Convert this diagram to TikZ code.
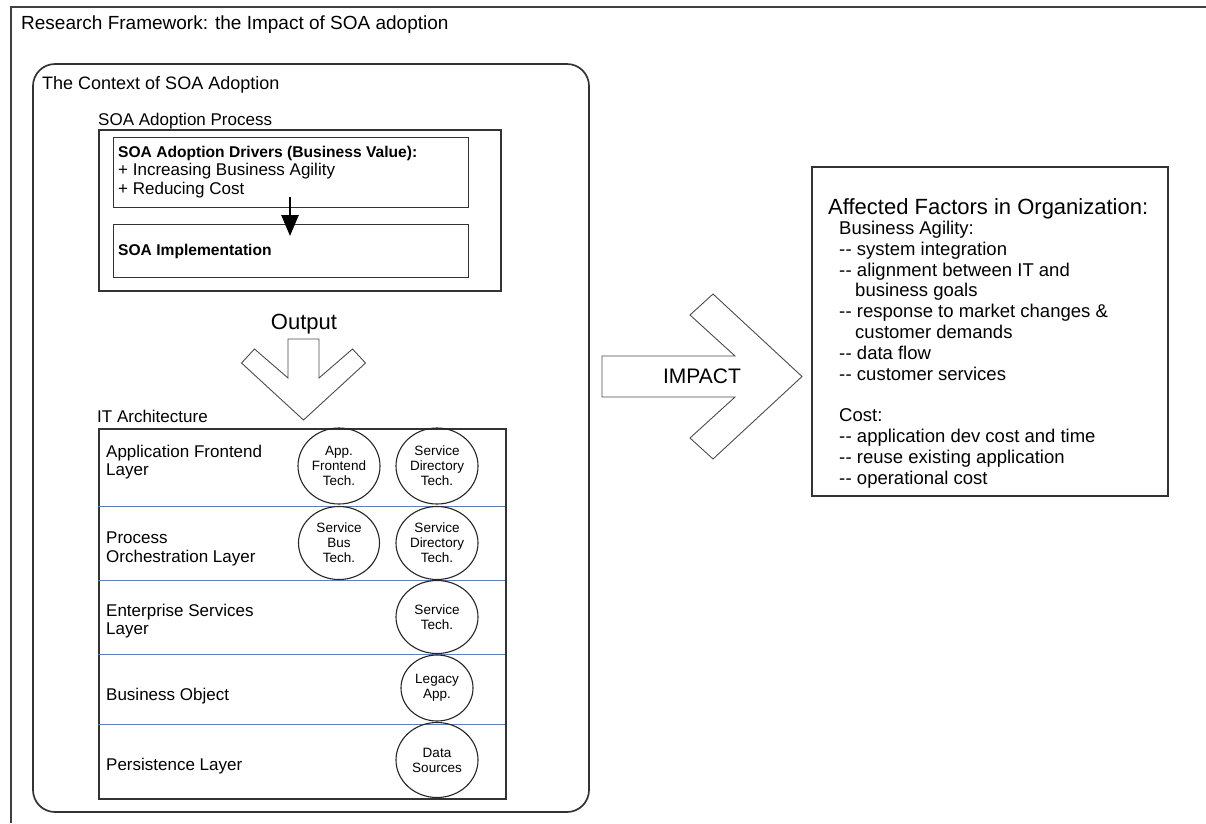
\documentclass[tikz,border=0pt]{standalone}
\usepackage{fontspec}
\setmainfont{Liberation Sans}
\usetikzlibrary{shapes.geometric,arrows.meta}
\newcommand\dbldash{-\kern0.3pt-}
\definecolor{layerline}{RGB}{95,125,185}
\begin{document}
\begin{tikzpicture}[x=1pt,y=-1pt,
  inbox/.style={draw=black!80, line width=1.3pt, anchor=north west, inner sep=0pt},
  txt/.style={anchor=base west, inner sep=0pt, font=\fontsize{17}{19}\selectfont},
  boldtxt/.style={anchor=base west, inner sep=0pt, font=\bfseries\fontsize{15.6}{18}\selectfont},
  factor/.style={anchor=base west, inner sep=0pt, font=\fontsize{18.5}{20.8}\selectfont},
  tech/.style={draw=black!85, line width=1.1pt, ellipse, inner sep=0pt, align=center,
    font=\fontsize{13.5}{15}\selectfont},
  divider/.style={draw=layerline, line width=1pt},
  bigarrow/.style={draw=black!70, line width=0.9pt, fill=white, line join=miter}
]
\useasboundingbox (0,0) rectangle (1206,823);
\fill[white] (0,0) rectangle (1206,823);

% page frame
\draw[black!75, line width=1.2pt] (11,823) -- (11,7) -- (1206,7);
\node[anchor=base west, inner sep=0pt, font=\fontsize{19}{21}\selectfont] (title) at (21,29)
  {Research Framework: the Impact of SOA adoption};

% context of adoption
\draw[black!80, line width=1.7pt, rounded corners=22pt] (33,64) rectangle (589,812);
\node[anchor=base west, inner sep=0pt, font=\fontsize{18}{20}\selectfont] (ctx) at (42,89)
  {The Context of SOA Adoption};

% adoption process
\node[txt] (proclbl) at (98,125) {SOA Adoption Process};
\node[inbox, line width=1.7pt, minimum width=402pt, minimum height=161pt] (process) at (98,129) {};
\node[inbox, minimum width=355pt, minimum height=70pt] (drivers) at (113,137) {};
\node[inbox, minimum width=355pt, minimum height=53pt] (impl) at (113,224) {};
\node[boldtxt] (drvhead) at (118,157) {SOA Adoption Drivers (Business Value):};
\node[txt] (drv1) at (118,175) {+ Increasing Business Agility};
\node[txt] (drv2) at (118,194) {+ Reducing Cost};
\node[boldtxt] (impltxt) at (118,255) {SOA Implementation};
\coordinate (drvstart) at (290,197);
\coordinate (drvend) at (290,236);
\draw[line width=2.6pt, -{Triangle[length=21pt,width=17pt]}] (drvstart) -- (drvend);

% output arrow
\draw[bigarrow] (288,339) -- (319,339) -- (319,378) -- (352.5,349) -- (365.5,363)
  -- (303.5,420) -- (241.5,363) -- (254.5,349) -- (288,378) -- cycle;
\node[anchor=base, inner sep=0pt, font=\fontsize{22}{24}\selectfont] (output) at (304,329) {Output};

% IT architecture
\node[txt] (itlbl) at (97,422) {IT Architecture};
\node[inbox, line width=1.6pt, minimum width=407pt, minimum height=370pt] (itarch) at (98,428) {};
\draw[divider] (98,506) -- (505,506);
\draw[divider] (98,580) -- (505,580);
\draw[divider] (98,654) -- (505,654);
\draw[divider] (98,724) -- (505,724);

\node[txt] (l1a) at (106,457) {Application Frontend};
\node[txt] (l1b) at (106,475) {Layer};
\node[txt] (l2a) at (106,543) {Process};
\node[txt] (l2b) at (106,562) {Orchestration Layer};
\node[txt] (l3a) at (106,616) {Enterprise Services};
\node[txt] (l3b) at (106,634) {Layer};
\node[txt] (l4) at (106,700) {Business Object};
\node[txt] (l5) at (106,770) {Persistence Layer};

\node[tech, minimum width=82pt, minimum height=76pt] (afe) at (339,466) {App.\\Frontend\\Tech.};
\node[tech, minimum width=82pt, minimum height=76pt] (sd1) at (437,466) {Service\\Directory\\Tech.};
\node[tech, minimum width=81pt, minimum height=73pt] (sbus) at (339,543) {Service\\Bus\\Tech.};
\node[tech, minimum width=82pt, minimum height=73pt] (sd2) at (437,543) {Service\\Directory\\Tech.};
\node[tech, minimum width=82pt, minimum height=73pt] (stech) at (437,617) {Service\\Tech.};
\node[tech, minimum width=72pt, minimum height=66pt] (legacy) at (437,688) {Legacy\\App.};
\node[tech, minimum width=82pt, minimum height=75pt] (data) at (437,760) {Data\\Sources};

% impact arrow
\draw[bigarrow] (602,356) -- (735,356) -- (690,315) -- (713,294) -- (802,376.5)
  -- (713,459) -- (690,438) -- (735,397) -- (602,397) -- cycle;
\node[anchor=base, inner sep=0pt, font=\fontsize{21}{23}\selectfont] (impact) at (702,383) {IMPACT};

% affected factors
\node[inbox, line width=1.6pt, minimum width=356pt, minimum height=329pt] (factors) at (811,166) {};
\node[anchor=base west, inner sep=0pt, font=\fontsize{22}{24}\selectfont] (facthead) at (828,214)
  {Affected Factors in Organization:};
\node[factor] (f1) at (839,234) {Business Agility:};
\node[factor] (f2) at (839,255) {\dbldash{} system integration};
\node[factor] (f3) at (839,276) {\dbldash{} alignment between IT and};
\node[factor] (f4) at (855,296) {business goals};
\node[factor] (f5) at (839,317) {\dbldash{} response to market changes \&};
\node[factor] (f6) at (855,338) {customer demands};
\node[factor] (f7) at (839,359) {\dbldash{} data flow};
\node[factor] (f8) at (839,380) {\dbldash{} customer services};
\node[factor] (f9) at (839,421) {Cost:};
\node[factor] (f10) at (839,442) {\dbldash{} application dev cost and time};
\node[factor] (f11) at (839,463) {\dbldash{} reuse existing application};
\node[factor] (f12) at (839,484) {\dbldash{} operational cost};
\end{tikzpicture}
\end{document}
